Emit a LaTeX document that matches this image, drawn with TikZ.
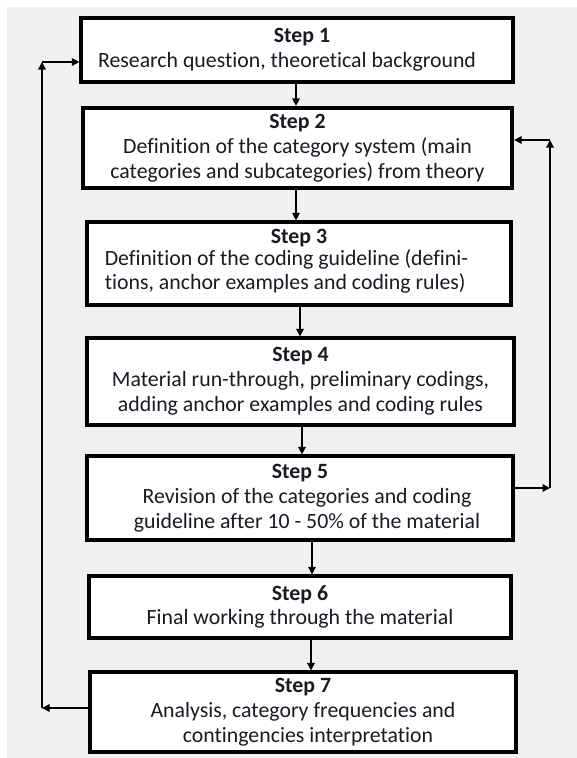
\documentclass[tikz,border=0pt]{standalone}
\usepackage{fontspec}
\setmainfont{Carlito}[Ligatures={NoCommon}]
\usetikzlibrary{arrows.meta,calc}
\definecolor{bggray}{HTML}{F0F0F0}
\definecolor{txt}{HTML}{1A1A24}
\tikzset{
  stepbox/.style={draw=black, fill=white, line width=3.2pt, rectangle, align=center,
    text=txt, font=\fontsize{21.8}{24.8}\selectfont, inner sep=0pt},
  arr/.style={line width=1.4pt, -{Triangle[length=7.5pt,width=7.5pt]}}
}
\begin{document}
\begin{tikzpicture}[x=1pt,y=-1pt]
\useasboundingbox (0,0) rectangle (577,758);
\fill[white] (0,0) rectangle (577,758);
\fill[bggray] (7,7) rectangle (577,758);

\node[stepbox, minimum width=432, minimum height=64] (s1) at (297,50)
  {\hspace*{10pt}\textbf{Step 1}\\\hspace*{-20pt}Research question, theoretical background};
\node[stepbox, line width=4.2pt, minimum width=429, minimum height=80] (s2) at (297.5,148)
  {\textbf{Step 2}\\Definition of the category system (main\\categories and subcategories) from theory};
\node[stepbox, minimum width=424, minimum height=83] (s3) at (299,263.5)
  {\textbf{Step 3}\\[0pt]\hspace*{-25pt}\begin{tabular}{@{}l@{}}Definition of the coding guideline (defini-\\[-0.5pt]tions, anchor examples and coding rules)\end{tabular}};
\node[stepbox, minimum width=427, minimum height=87] (s4) at (300.5,381.5)
  {\textbf{Step 4}\\Material run-through, preliminary codings,\\adding anchor examples and coding rules};
\node[stepbox, minimum width=426, minimum height=84] (s5) at (300,498)
  {\textbf{Step 5}\\\hspace*{14pt}Revision of the categories and coding\\\hspace*{14pt}guideline after 10 - 50\% of the material};
\node[stepbox, minimum width=422, minimum height=62] (s6) at (300,607)
  {\textbf{Step 6}\\Final working through the material};
\node[stepbox, minimum width=426, minimum height=80] (s7) at (303,712)
  {\textbf{Step 7}\\Analysis, category frequencies and\\\hspace*{10pt}contingencies interpretation};

% main flow
\draw[arr] ([xshift=-1pt]s1.south) -- ([xshift=-1pt]s1.south |- s2.north);
\draw[arr] ([xshift=-1.5pt]s2.south) -- ([xshift=-1.5pt]s2.south |- s3.north);
\draw[arr] ([xshift=1pt]s3.south) -- ([xshift=1pt]s3.south |- s4.north);
\draw[arr] ([xshift=1.5pt]s4.south) -- ([xshift=1.5pt]s4.south |- s5.north);
\draw[arr] ([xshift=12pt]s5.south) -- ([xshift=12pt]s5.south |- s6.north);
\draw[arr] ([xshift=11pt]s6.south) -- ([xshift=11pt]s6.south |- s7.north);

% left feedback loop
\coordinate (lb) at (42,708);
\coordinate (lt) at (42,62);
\draw[arr] (lb -| s7.west) -- (lb);
\draw[arr] (lb) -- (lt);
\draw[arr] (lt) -- (lt -| s1.west);

% right feedback loop
\coordinate (rb) at (550,488);
\coordinate (rt) at (550,140);
\draw[arr] (rb -| s5.east) -- (rb);
\draw[arr] (rb) -- (rt);
\draw[arr] (rt) -- (rt -| s2.east);
\end{tikzpicture}
\end{document}
